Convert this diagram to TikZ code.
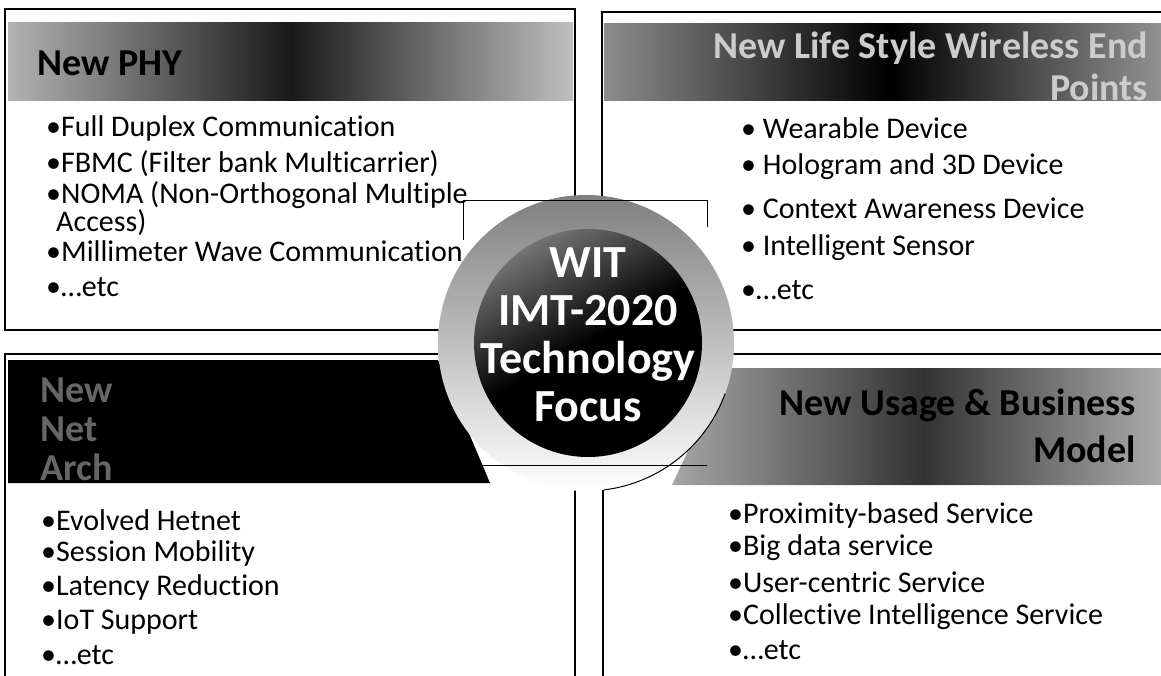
\documentclass[tikz,border=0pt]{standalone}
\usepackage{fontspec}
\setmainfont[Ligatures=NoCommon]{Carlito}
\usetikzlibrary{positioning}

\begin{document}
\begin{tikzpicture}[
  x=1pt, y=-1pt,
  panel/.style={draw=black, line width=1.8pt},
  item/.style={anchor=west, inner sep=0pt, align=left, font=\fontsize{30}{19}\selectfont},
  head/.style={inner sep=0pt, font=\fontsize{38}{42}\selectfont\bfseries},
  hub/.style={inner sep=0pt, align=center, text=white,
    font=\fontsize{46}{48}\selectfont\bfseries},
  frameline/.style={draw=black, line width=0.9pt}
]
\useasboundingbox (0,0) rectangle (1161,675);
\clip (0,0) rectangle (1161,675);

% Header bands
\shade[left color=black!30, right color=black!25, middle color=black!90]
  (8,22) rectangle (573,100);
\shade[left color=black!45, right color=black!40, middle color=black]
  (604,23) rectangle (1175,100);
\fill[black] (8,360) -- (438,360) -- (490,483) -- (8,483) -- cycle;
\shade[left color=black!35, right color=black!30, middle color=black!80]
  (727,368) -- (1175,368) -- (1175,485) -- (672,485) -- cycle;

% Panel frames
\draw[panel] (5,9) rectangle (575,330);
\draw[panel] (602,12) rectangle (1175,330);
\draw[panel] (5,354) rectangle (575,690);
\draw[panel] (603,354) rectangle (1175,690);

% Panel titles
\node[head, anchor=west] (phyhead) at (37,63) {New PHY};
\node[head, anchor=east, align=right, text=black!20] (endhead) at (1148,66)
  {New Life Style Wireless End\\Points};
\node[head, anchor=west, align=left, text=black!60,
  font=\fontsize{38}{39}\selectfont\bfseries] (archhead) at (40,429) {New\\Net\\Arch};
\node[head, anchor=east, align=right,
  font=\fontsize{38}{47}\selectfont\bfseries] (usagehead) at (1136,426)
  {New Usage \& Business\\Model};

% Centre disc
\shade[top color=black!50, bottom color=white] (586,343) circle (148);
\shade[top color=black!55, bottom color=black, middle color=black, shading angle=30]
  (588,343) circle (114);
\draw[line width=1pt] (586,343) ++(20:148) arc[start angle=20, end angle=83, radius=148];
\node[hub] (hub) at (588,335) {WIT\\IMT-2020\\Technology\\Focus};

% Frame lines round the disc
\coordinate (fa) at (463,240);
\coordinate (fb) at (463,200);
\coordinate (fc) at (707,200);
\coordinate (fd) at (707,227);
\coordinate (fe) at (480,465);
\coordinate (ff) at (707,465);
\draw[frameline] (fa) -- (fb) -- (fc) -- (fd);
\draw[frameline] (fe) -- (ff);

% Bullet lists
\foreach \y/\t [count=\k] in {128/{•Full Duplex Communication},
    164/{•FBMC (Filter bank Multicarrier)},
    209/{•NOMA (Non-Orthogonal Multiple\\\hspace*{10pt}Access)},
    251/{•Millimeter Wave Communication}, 287/{•…etc}}
  \node[item] (phy\k) at (46,\y) {\t};

\foreach \y/\t [count=\k] in {128/{• Wearable Device}, 167/{• Hologram and 3D Device},
    208/{• Context Awareness Device}, 248/{• Intelligent Sensor}, 290/{•…etc}}
  \node[item] (end\k) at (741,\y) {\t};

\foreach \y/\t [count=\k] in {520/{•Evolved Hetnet}, 553/{•Session Mobility},
    587/{•Latency Reduction}, 622/{•IoT Support}, 655/{•…etc}}
  \node[item] (arch\k) at (41,\y) {\t};

\foreach \y/\t [count=\k] in {515/{•Proximity-based Service}, 548/{•Big data service},
    582/{•User-centric Service}, 617/{•Collective Intelligence Service}, 650/{•…etc}}
  \node[item] (usage\k) at (728,\y) {\t};

\end{tikzpicture}
\end{document}
